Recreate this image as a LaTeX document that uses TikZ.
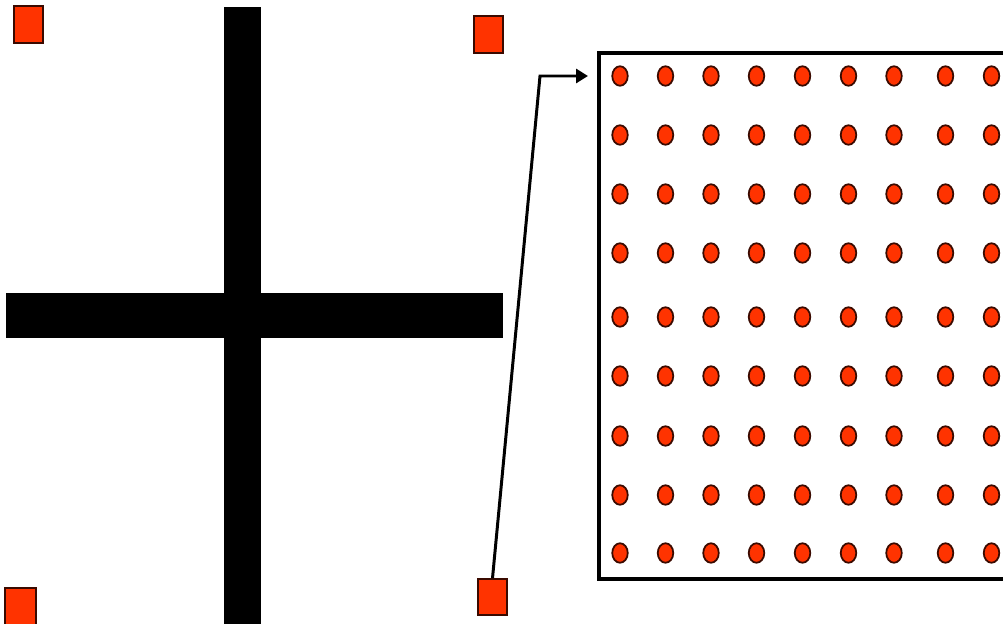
\documentclass[tikz,border=0pt]{standalone}
\usetikzlibrary{arrows.meta,shapes.geometric}
\definecolor{dotred}{HTML}{FF3300}
\definecolor{edge}{HTML}{3A0A00}
\begin{document}
\begin{tikzpicture}[x=0.02cm,y=-0.02cm,
  marker/.style={draw=edge,fill=dotred,line width=1pt,inner sep=0pt,minimum width=0.58cm,minimum height=0.74cm},
  dotmark/.style={ellipse,draw=edge,fill=dotred,line width=1pt,inner sep=0pt,minimum width=0.31cm,minimum height=0.39cm},
  bar/.style={fill=black,draw=none},
  frame/.style={draw=black,line width=2pt},
  arr/.style={draw=black,line width=1.7pt,-{Triangle[length=0.24cm,width=0.28cm]}}]
\useasboundingbox (0,0) rectangle (1003,624);
\clip (0,0) rectangle (1003,624);
% cross
\fill[bar] (224,7) rectangle (261,630);
\fill[bar] (6,293) rectangle (503,338);
% corner markers
\node[marker] (tl) at (28.5,24.5) {};
\node[marker] (tr) at (488.5,34.5) {};
\node[marker,minimum width=0.62cm] (bl) at (20.5,606.5) {};
\node[marker,minimum height=0.72cm] (br) at (492.5,597) {};
% magnified box
\draw[frame] (599,53) rectangle (1020,579);
\foreach \cx [count=\i] in {620,665.5,711,756.5,802.5,848.5,894,945.5,991.5}
  \foreach \cy [count=\j] in {76,135,194,253,317,376,436,495,553}
    \node[dotmark] (d\i-\j) at (\cx,\cy) {};
% arrow
\coordinate (bend) at (540,76);
\coordinate (tip) at (588,76);
\draw[arr] (br.north) -- (bend) -- (tip);
\end{tikzpicture}
\end{document}
